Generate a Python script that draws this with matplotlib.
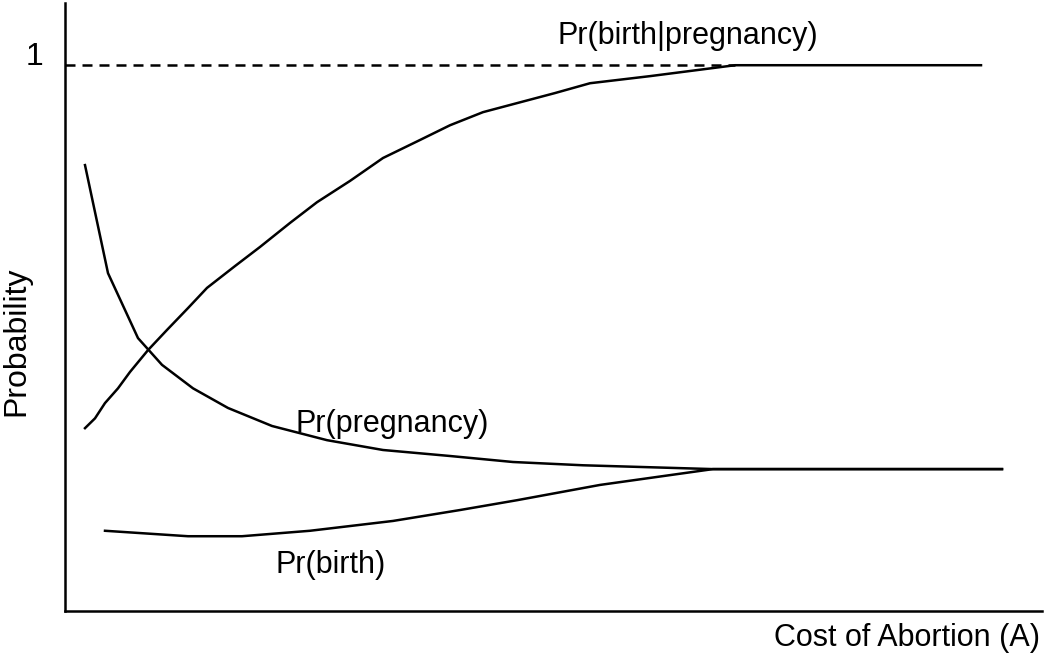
import matplotlib.pyplot as plt

plt.rcParams['font.family'] = ['Liberation Sans', 'DejaVu Sans']

# values (cost in arbitrary units, probability 0..1)
cond_cost = [0.20, 0.30, 0.40, 0.53, 0.65, 0.83, 1.02, 1.23, 1.42, 1.70, 1.95, 2.25,
             2.52, 2.85, 3.18, 3.55, 3.85, 4.18, 4.55, 4.90, 5.25, 5.85, 6.70, 9.16]
cond_prob = [0.335, 0.353, 0.381, 0.408, 0.438, 0.478, 0.515, 0.555, 0.592, 0.632, 0.667, 0.711,
             0.749, 0.788, 0.830, 0.863, 0.890, 0.914, 0.932, 0.949, 0.967, 0.980, 1.0, 1.0]

preg_cost = [0.20, 0.43, 0.73, 0.97, 1.28, 1.63, 2.07, 2.62, 3.18, 3.85, 4.48, 5.18, 6.48, 9.37]
preg_prob = [0.817, 0.619, 0.500, 0.451, 0.408, 0.372, 0.339, 0.313, 0.295, 0.284, 0.273,
             0.267, 0.260, 0.260]

birth_cost = [0.40, 1.23, 1.77, 2.45, 3.28, 3.95, 4.52, 5.35, 6.48, 9.37]
birth_prob = [0.147, 0.137, 0.137, 0.147, 0.165, 0.185, 0.203, 0.231, 0.260, 0.260]

dash_cost = [0.0, 6.70]
dash_prob = [1.0, 1.0]

fig = plt.figure(figsize=(10.47, 6.6), dpi=100)
ax = fig.add_axes([65 / 1047, 49 / 660, 977 / 1047, 608 / 660])

lw = 1.8
ax.plot(dash_cost, dash_prob, color='black', lw=lw, linestyle=(0, (4.0, 2.8)))
ax.plot(cond_cost, cond_prob, color='black', lw=lw)
ax.plot(preg_cost, preg_prob, color='black', lw=lw)
ax.plot(birth_cost, birth_prob, color='black', lw=lw)

ax.set_xlim(0, 9.77)
ax.set_ylim(0, 1.114)
ax.set_xticks([])
ax.set_yticks([])
for s in ['top', 'right']:
    ax.spines[s].set_visible(False)
for s in ['left', 'bottom']:
    ax.spines[s].set_linewidth(lw)

ax.text(4.92, 1.038, 'Pr(birth|pregnancy)', fontsize=22, va='baseline')
ax.text(2.30, 0.328, 'Pr(pregnancy)', fontsize=22, va='baseline')
ax.text(2.10, 0.070, 'Pr(birth)', fontsize=22, va='baseline')
ax.text(-0.22, 1.0, '1', fontsize=23, ha='right', va='baseline', clip_on=False)

fig.text(16 / 1047, 1 - 341 / 660, 'Probability', fontsize=23, rotation=90,
         ha='center', va='center')
fig.text(1040 / 1047, 1 - 638 / 660, 'Cost of Abortion (A)', fontsize=22,
         ha='right', va='center')

fig.savefig('out.png', dpi=100)
